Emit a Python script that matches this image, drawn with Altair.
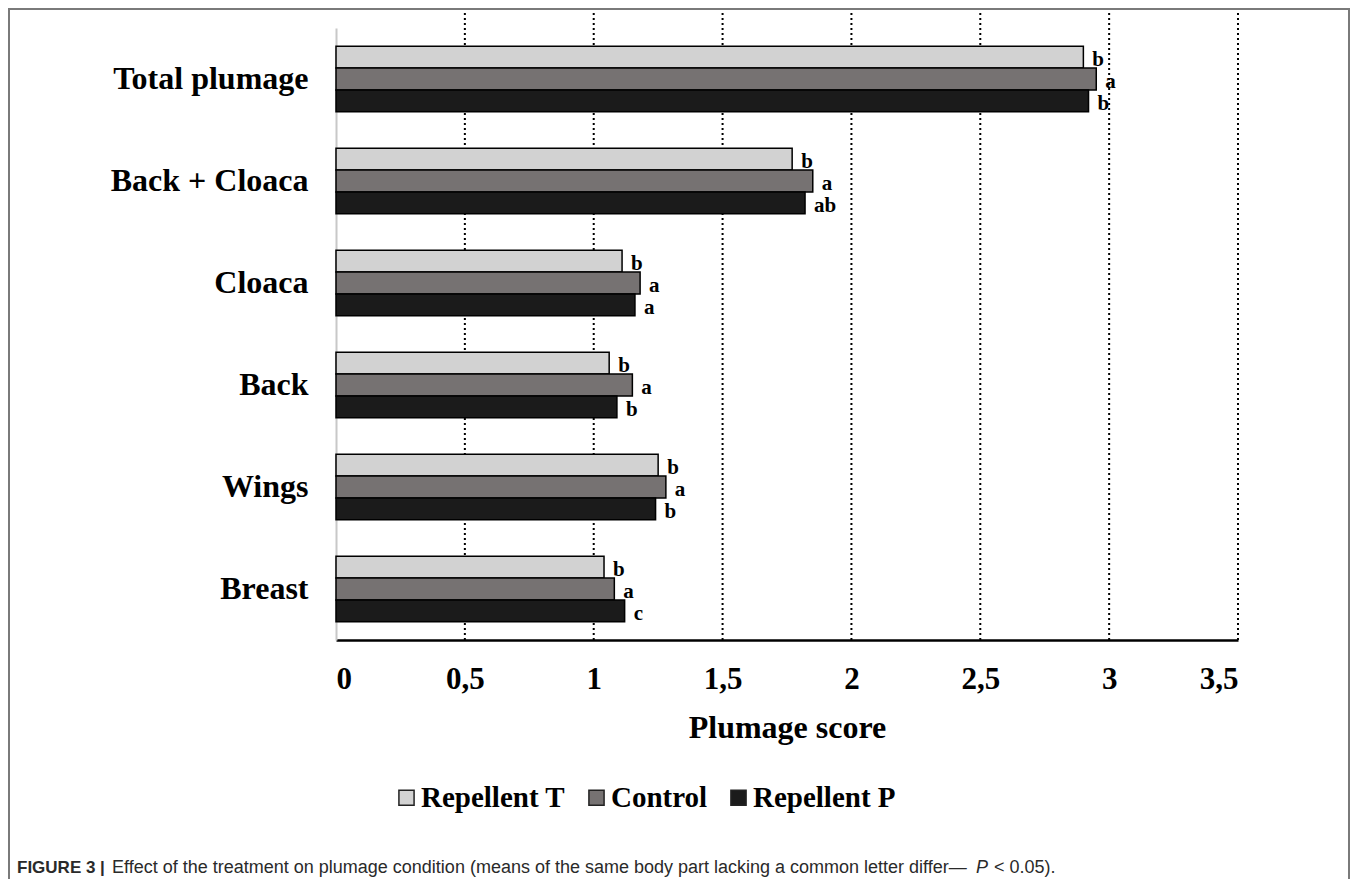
import altair as alt
import pandas as pd

categories = ["Total plumage", "Back + Cloaca", "Cloaca", "Back", "Wings", "Breast"]
series = ["Repellent T", "Control", "Repellent P"]
rep_T = [2.90, 1.77, 1.11, 1.06, 1.25, 1.04]
control = [2.95, 1.85, 1.18, 1.15, 1.28, 1.08]
rep_P = [2.92, 1.82, 1.16, 1.09, 1.24, 1.12]
letters_T = ["b", "b", "b", "b", "b", "b"]
letters_C = ["a", "a", "a", "a", "a", "a"]
letters_P = ["b", "ab", "a", "b", "b", "c"]
x_ticks = [0, 0.5, 1, 1.5, 2, 2.5, 3, 3.5]
colors = ["#d2d2d2", "#767272", "#1b1b1b"]

rows = []
for s, vals, lets in zip(series, [rep_T, control, rep_P], [letters_T, letters_C, letters_P]):
    for c, v, l in zip(categories, vals, lets):
        rows.append({"part": c, "group": s, "score": v, "letter": l})
df = pd.DataFrame(rows)

W, H = 902, 612
SERIF = "Liberation Serif"

xscale = alt.Scale(domain=[0, 3.5], nice=False, zero=True)
yenc = alt.Y("part:N", sort=categories, title=None,
             scale=alt.Scale(paddingInner=0.36, paddingOuter=0.18),
             axis=alt.Axis(labelFont=SERIF, labelFontSize=32, labelFontWeight="bold",
                           labelColor="black", labelPadding=28, ticks=False, labelLimit=500,
                           domainColor="#c8c8c8", domainWidth=2))
yoff = alt.YOffset("group:N", sort=series)

grid = alt.Chart(pd.DataFrame({"t": x_ticks[1:]})).mark_rule(
    color="black", strokeWidth=2, strokeDash=[2, 3]
).encode(
    x=alt.X("t:Q", scale=xscale),
    y=alt.value(-20), y2=alt.value(H)
)

bars = alt.Chart(df).mark_bar(stroke="black", strokeWidth=1.5, opacity=1).encode(
    x=alt.X("score:Q", scale=xscale, title="Plumage score",
            axis=alt.Axis(values=x_ticks, grid=False, ticks=False,
                          labelExpr="replace(toString(datum.value), '.', ',')",
                          labelFont=SERIF, labelFontSize=31, labelFontWeight="bold",
                          labelColor="black", labelPadding=24,
                          titleFont=SERIF, titleFontSize=32, titleFontWeight="bold",
                          titleColor="black", titlePadding=18,
                          domainColor="black", domainWidth=2.5)),
    y=yenc,
    yOffset=yoff,
    color=alt.Color("group:N", sort=series,
                    scale=alt.Scale(domain=series, range=colors),
                    legend=alt.Legend(title=None, orient="none", legendX=56, legendY=755,
                                      direction="horizontal", symbolType="square",
                                      symbolSize=230, symbolStrokeColor="#222",
                                      symbolStrokeWidth=1.5, labelFont=SERIF,
                                      labelFontSize=29, labelFontWeight="bold",
                                      labelColor="black", labelOffset=0,
                                      columnPadding=16, labelLimit=400))
)

letters = alt.Chart(df).mark_text(
    align="left", baseline="middle", dx=9, dy=3,
    font=SERIF, fontSize=21, fontWeight="bold", color="black"
).encode(
    x=alt.X("score:Q", scale=xscale),
    y=alt.Y("part:N", sort=categories),
    yOffset=yoff,
    text="letter:N"
)

frame = alt.Chart(pd.DataFrame({"a": [0]})).mark_rect(
    fill=None, stroke="#7a7a7a", strokeWidth=2
).encode(
    x=alt.value(-327), x2=alt.value(1013), y=alt.value(-19), y2=alt.value(H + 300)
)

cap_df = pd.DataFrame({"a": [0]})
cap_y = 845
cap1 = alt.Chart(cap_df).mark_text(align="left", baseline="alphabetic", font="Liberation Sans",
                                   fontSize=17, fontWeight="bold", color="#2a2a2a").encode(
    x=alt.value(17 - 336), y=alt.value(cap_y), text=alt.value("FIGURE 3 |"))
cap2 = alt.Chart(cap_df).mark_text(align="left", baseline="alphabetic", font="Liberation Sans",
                                   fontSize=18, color="#2a2a2a").encode(
    x=alt.value(112 - 336), y=alt.value(cap_y),
    text=alt.value("Effect of the treatment on plumage condition (means of the same body part lacking a common letter differ\u2014"))
cap3 = alt.Chart(cap_df).mark_text(align="left", baseline="alphabetic", font="Liberation Sans",
                                   fontSize=18, fontStyle="italic", color="#2a2a2a").encode(
    x=alt.value(976 - 336), y=alt.value(cap_y), text=alt.value("P"))
cap4 = alt.Chart(cap_df).mark_text(align="left", baseline="alphabetic", font="Liberation Sans",
                                   fontSize=18, color="#2a2a2a").encode(
    x=alt.value(994 - 336), y=alt.value(cap_y), text=alt.value("< 0.05)."))

chart = alt.layer(grid, bars, letters, frame, cap1, cap2, cap3, cap4).properties(
    width=W, height=H,
    padding={"left": 328, "top": 20, "right": 112, "bottom": 239},
    autosize=alt.AutoSizeParams(type="none"),
    background="white"
).configure_view(stroke=None)

chart.save("out.html", embed_options={"renderer": "svg", "actions": False})
